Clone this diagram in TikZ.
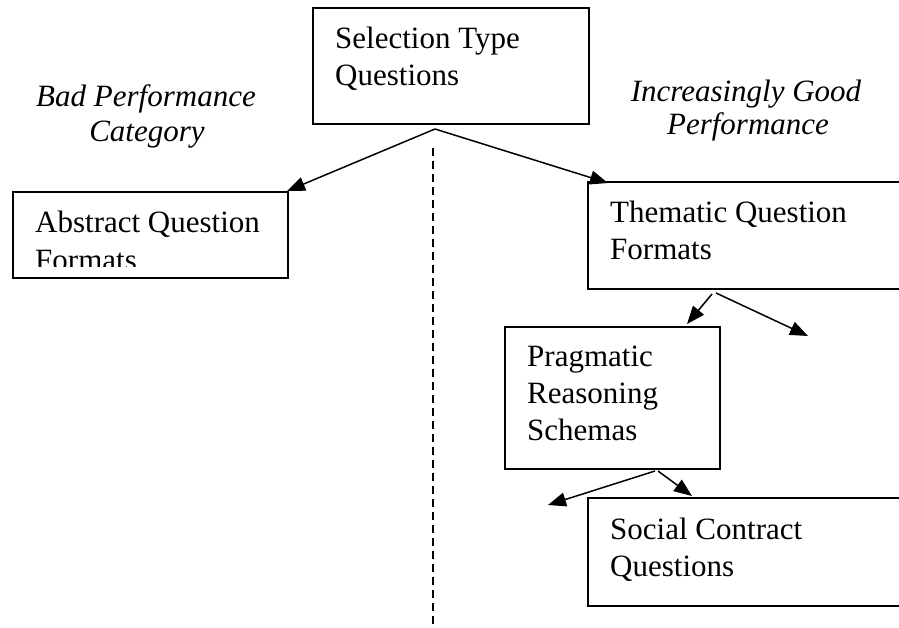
\documentclass[tikz,border=0pt]{standalone}
\usepackage{fontspec}
\setmainfont{Liberation Serif}
\usetikzlibrary{arrows.meta}
\begin{document}
\begin{tikzpicture}[x=1pt,y=-1pt,
  boxshape/.style={draw, line width=1.5pt, inner sep=0pt},
  boxtext/.style={anchor=base west, inner sep=0pt, font=\fontsize{31}{37}\selectfont},
  itlabel/.style={anchor=base, inner sep=0pt, font=\fontsize{31}{37}\selectfont\itshape},
  arr/.style={line width=1.5pt, -{Triangle[length=18pt,width=14pt]}},
  dashline/.style={line width=1.5pt, dash pattern=on 8pt off 5pt}]
\useasboundingbox (0,0) rectangle (899,628);
\clip (0,0) rectangle (899,628);
\fill[white] (0,0) rectangle (899,628);

% boxes
\draw[boxshape] (313,8) rectangle (589,124);
\draw[boxshape] (13,192) rectangle (288,278);
\draw[boxshape] (588,182) rectangle (930,289);
\draw[boxshape] (505,327) rectangle (720,469);
\draw[boxshape] (588,498) rectangle (930,606);

% texts
\node[boxtext] (sel1) at (335,49) {Selection Type};
\node[boxtext] (sel2) at (335,86) {Questions};
\node[boxtext] (abs1) at (35,233) {Abstract Question};
\begin{scope}
  \clip (14,193) rectangle (287,267);
  \node[boxtext] (abs2) at (35,270) {Formats};
\end{scope}
\node[boxtext] (the1) at (610,223) {Thematic Question};
\node[boxtext] (the2) at (610,260) {Formats};
\node[boxtext] (pra1) at (527,366) {Pragmatic};
\node[boxtext] (pra2) at (527,403) {Reasoning};
\node[boxtext] (pra3) at (527,440) {Schemas};
\node[boxtext] (soc1) at (610,539) {Social Contract};
\node[boxtext] (soc2) at (610,576) {Questions};

\node[itlabel] (bad1) at (146,107) {Bad Performance};
\node[itlabel] (bad2) at (147,142) {Category};
\node[itlabel] (good1) at (746,102) {Increasingly Good};
\node[itlabel] (good2) at (748,135) {Performance};

% connector points
\coordinate (s0) at (435,129);
\coordinate (absTip) at (287,191);
\coordinate (theTip) at (608,183);
\coordinate (t0) at (712,294);
\coordinate (t1) at (716,293);
\coordinate (praTip) at (687,324);
\coordinate (freeTip1) at (808,336);
\coordinate (p0) at (655,471);
\coordinate (p1) at (658,471);
\coordinate (freeTip2) at (548,505);
\coordinate (socTip) at (692,496);
\coordinate (d0) at (433,148);
\coordinate (d1) at (433,628);

\draw[arr] (s0) -- (absTip);
\draw[arr] (s0) -- (theTip);
\draw[arr] (t0) -- (praTip);
\draw[arr] (t1) -- (freeTip1);
\draw[arr] (p0) -- (freeTip2);
\draw[arr] (p1) -- (socTip);
\draw[dashline] (d0) -- (d1);
\end{tikzpicture}
\end{document}
